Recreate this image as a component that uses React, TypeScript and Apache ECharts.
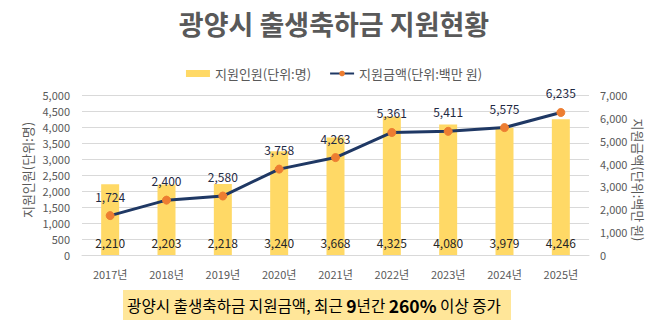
import React, { useEffect, useRef } from "react";
import * as echarts from "echarts";

const categories = ["2017년", "2018년", "2019년", "2020년", "2021년", "2022년", "2023년", "2024년", "2025년"];
const people = [2210, 2203, 2218, 3240, 3668, 4325, 4080, 3979, 4246];
const amount = [1724, 2400, 2580, 3758, 4263, 5361, 5411, 5575, 6235];

const FONT = "'Noto Sans CJK KR', 'Noto Sans', sans-serif";

export default function App() {
  const ref = useRef<HTMLDivElement>(null);
  useEffect(() => {
    if (!ref.current) return;
    const chart = echarts.init(ref.current, undefined, { renderer: "svg" });
    chart.setOption({
      animation: false,
      textStyle: { fontFamily: FONT },
      title: {
        text: "광양시 출생축하금 지원현황",
        left: "center",
        top: 5,
        textStyle: { fontFamily: FONT, fontSize: 27, fontWeight: "bold", color: "#595959" },
      },
      legend: {
        top: 62,
        left: "center",
        itemGap: 18,
        textStyle: { fontFamily: FONT, fontSize: 13, color: "#595959" },
        data: [
          { name: "지원인원(단위:명)", icon: "rect", itemStyle: { color: "#FFD966" } },
          { name: "지원금액(단위:백만 원)" },
        ],
        itemWidth: 24,
        itemHeight: 7,
      },
      grid: { left: 82, right: 79, top: 95, bottom: 79, containLabel: false },
      xAxis: {
        type: "category",
        data: categories,
        axisLine: { show: true, lineStyle: { color: "#D9D9D9" } },
        axisTick: { show: false },
        axisLabel: { color: "#595959", fontSize: 11, margin: 13, fontFamily: FONT },
      },
      yAxis: [
        {
          type: "value",
          min: 0,
          max: 5000,
          interval: 500,
          axisLabel: {
            color: "#595959",
            fontSize: 11,
            margin: 12,
            fontFamily: FONT,
            formatter: (v: number) => v.toLocaleString("en-US"),
          },
          splitLine: { lineStyle: { color: "#D9D9D9" } },
          axisLine: { show: false },
          axisTick: { show: false },
        },
        {
          type: "value",
          min: 0,
          max: 7000,
          interval: 1000,
          axisLabel: {
            color: "#595959",
            fontSize: 11,
            margin: 11,
            fontFamily: FONT,
            formatter: (v: number) => v.toLocaleString("en-US"),
          },
          splitLine: { show: false },
          axisLine: { show: false },
          axisTick: { show: false },
        },
      ],
      series: [
        {
          name: "지원인원(단위:명)",
          type: "bar",
          data: people,
          barWidth: 18,
          itemStyle: { color: "#FFD966" },
          label: {
            show: true,
            position: "insideBottom",
            distance: 7,
            color: "#262626",
            fontSize: 12,
            fontFamily: FONT,
            formatter: (p: any) => Number(p.value).toLocaleString("en-US"),
          },
        },
        {
          name: "지원금액(단위:백만 원)",
          type: "line",
          yAxisIndex: 1,
          data: amount,
          symbol: "circle",
          symbolSize: 8,
          lineStyle: { color: "#1F3864", width: 3 },
          itemStyle: { color: "#ED7D31", borderColor: "#ED7D31" },
          label: {
            show: true,
            position: "top",
            distance: 9,
            color: "#1F2A44",
            fontSize: 12,
            fontFamily: FONT,
            formatter: (p: any) => Number(p.value).toLocaleString("en-US"),
          },
          z: 3,
        },
      ],
      graphic: [
        {
          type: "text",
          x: 27,
          y: 170,
          rotation: Math.PI / 2,
          style: {
            text: "지원인원(단위:명)",
            align: "center",
            verticalAlign: "middle",
            fontFamily: FONT,
            fontSize: 13,
            fill: "#595959",
          },
        },
        {
          type: "text",
          x: 638,
          y: 180,
          rotation: -Math.PI / 2,
          style: {
            text: "지원금액(단위:백만 원)",
            align: "center",
            verticalAlign: "middle",
            fontFamily: FONT,
            fontSize: 13,
            fill: "#595959",
          },
        },
        {
          type: "rect",
          shape: { x: 123, y: 290, width: 388, height: 30 },
          style: { fill: "#FFE699" },
          z: 10,
        },
        {
          type: "text",
          x: 314,
          y: 305,
          z: 11,
          style: {
            text: "{a|광양시 출생축하금 지원금액, 최근 }{b|9}{a|년간 }{b|260%}{a| 이상 증가}",
            align: "center",
            verticalAlign: "middle",
            rich: {
              a: { fontFamily: FONT, fontSize: 15.6, color: "#262626" },
              b: { fontFamily: FONT, fontSize: 17.5, fontWeight: "bold", color: "#262626" },
            },
          },
        },
      ],
    });
    return () => chart.dispose();
  }, []);
  return <div ref={ref} style={{ width: 668, height: 334, position: "absolute", left: 0, top: 0 }} />;
}
